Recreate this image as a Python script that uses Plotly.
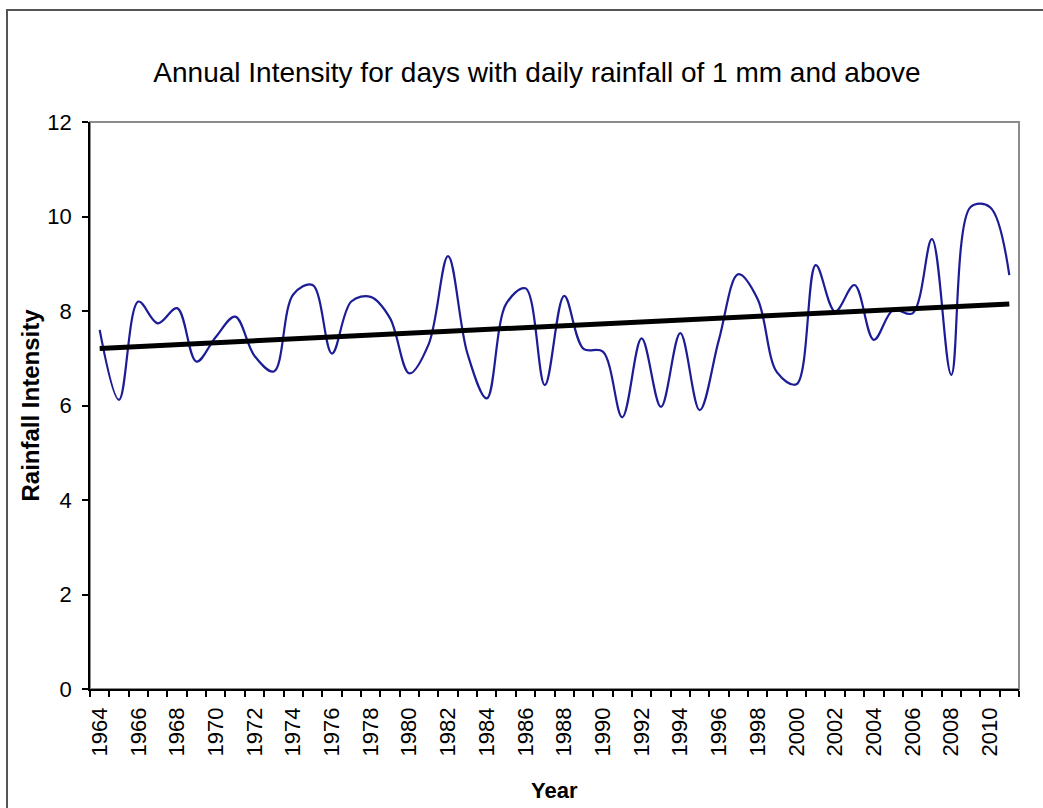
import numpy as np
import plotly.graph_objects as go

years = list(range(1964, 2012))
intensity = [7.6, 6.12, 8.2, 7.74, 8.06, 6.93, 7.45, 7.88, 7.05, 6.72,
             8.35, 8.55, 7.1, 8.2, 8.3, 7.85, 6.68, 7.3, 9.16, 7.1,
             6.15, 8.15, 8.48, 6.43, 8.32, 7.2, 7.14, 5.75, 7.42, 5.97,
             7.53, 5.9, 7.4, 8.78, 8.25, 6.7, 6.45, 8.97, 7.99, 8.55,
             7.39, 8.02, 7.95, 9.52, 6.65, 10.2, 10.2, 8.76]
tick_years = list(range(1964, 2011, 2))
y_ticks = [0, 2, 4, 6, 8, 10, 12]

slope, intercept = np.polyfit(years, intensity, 1)
trend = [slope * y + intercept for y in years]

fig = go.Figure()
fig.add_trace(go.Scatter(x=years, y=intensity, mode="lines",
                         line=dict(color="#1c1c96", width=2.2, shape="spline", smoothing=1),
                         showlegend=False))
fig.add_trace(go.Scatter(x=[years[0], years[-1]], y=[trend[0], trend[-1]], mode="lines",
                         line=dict(color="black", width=5),
                         showlegend=False))

L, R, T, B = 90, 24, 122, 119
W, H = 1043, 808
pw, ph = W - L - R, H - T - B

fig.update_layout(
    width=W, height=H,
    margin=dict(l=L, r=R, t=T, b=B, pad=0),
    paper_bgcolor="white", plot_bgcolor="white",
    font=dict(family="Liberation Sans, Arial, sans-serif", color="black"),
    title=dict(text="Annual Intensity for days with daily rainfall of 1 mm and above",
               x=537 / W, xanchor="center", xref="container",
               y=1 - 72 / H, yanchor="middle", yref="container",
               font=dict(size=28, family="Liberation Sans, Arial, sans-serif", color="black")),
    xaxis=dict(range=[1963.5, 2011.5], tickmode="array", tickvals=tick_years,
               ticktext=[str(y) for y in tick_years], tickangle=-90,
               ticks="", showgrid=False, zeroline=False,
               showline=True, linecolor="black", linewidth=1.5,
               tickfont=dict(size=22), ticklabelstandoff=8,
               minor=dict(tickmode="array", tickvals=[y - 0.5 for y in years] + [2011.5],
                          ticks="outside", ticklen=6, tickcolor="black", tickwidth=1.5,
                          showgrid=False)),
    yaxis=dict(range=[0, 12], tickmode="array", tickvals=y_ticks,
               ticks="outside", ticklen=6, tickcolor="black", tickwidth=1.5,
               showgrid=False, zeroline=False,
               showline=True, linecolor="black", linewidth=1.5,
               tickfont=dict(size=22), ticklabelstandoff=6),
    shapes=[
        dict(type="rect", xref="paper", yref="paper", x0=0, x1=1, y0=0, y1=1,
             line=dict(color="#8c8c8c", width=2), layer="below"),
        dict(type="rect", xref="paper", yref="paper",
             x0=(7 - L) / pw, x1=(W + 20 - L) / pw,
             y0=-(H + 20 - (T + ph)) / ph, y1=1 + (T - 10) / ph,
             line=dict(color="#555555", width=2), layer="below"),
    ],
    annotations=[
        dict(text="<b>Rainfall Intensity</b>", xref="paper", yref="paper",
             x=(30 - L) / pw, y=0.5, xanchor="center", yanchor="middle",
             textangle=-90, showarrow=False, font=dict(size=24)),
        dict(text="<b>Year</b>", xref="paper", yref="paper",
             x=(554 - L) / pw, y=-(790 - (T + ph)) / ph, xanchor="center", yanchor="middle",
             showarrow=False, font=dict(size=22)),
    ],
)

fig.write_html("out.html", config={"displayModeBar": False},
               post_script="document.body.style.margin='0';document.body.style.overflow='hidden';")
